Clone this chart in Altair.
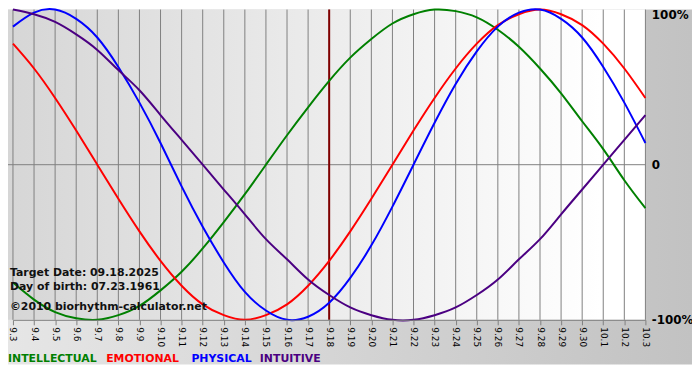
import altair as alt
import pandas as pd

# ---- data ----
days = ["9.3", "9.4", "9.5", "9.6", "9.7", "9.8", "9.9", "9.10", "9.11", "9.12",
        "9.13", "9.14", "9.15", "9.16", "9.17", "9.18", "9.19", "9.20", "9.21",
        "9.22", "9.23", "9.24", "9.25", "9.26", "9.27", "9.28", "9.29", "9.30",
        "10.1", "10.2", "10.3"]

intellectual = [-0.76, -0.87, -0.95, -0.99, -1.00, -0.97, -0.91, -0.81, -0.69, -0.54,
                -0.37, -0.19, 0.00, 0.19, 0.37, 0.54, 0.69, 0.81, 0.91, 0.97,
                1.00, 0.99, 0.95, 0.87, 0.76, 0.62, 0.46, 0.28, 0.10, -0.10, -0.28]
emotional = [0.78, 0.62, 0.43, 0.22, 0.00, -0.22, -0.43, -0.62, -0.78, -0.90,
             -0.97, -1.00, -0.97, -0.90, -0.78, -0.62, -0.43, -0.22, 0.00, 0.22,
             0.43, 0.62, 0.78, 0.90, 0.97, 1.00, 0.97, 0.90, 0.78, 0.62, 0.43]
physical = [0.89, 0.98, 1.00, 0.94, 0.82, 0.63, 0.40, 0.14, -0.14, -0.40,
            -0.63, -0.82, -0.94, -1.00, -0.98, -0.89, -0.73, -0.52, -0.27, 0.00,
            0.27, 0.52, 0.73, 0.89, 0.98, 1.00, 0.94, 0.82, 0.63, 0.40, 0.14]
intuitive = [1.00, 0.97, 0.92, 0.84, 0.74, 0.61, 0.48, 0.32, 0.16, 0.00,
             -0.16, -0.32, -0.48, -0.61, -0.74, -0.84, -0.92, -0.97, -1.00, -1.00,
             -0.97, -0.92, -0.84, -0.74, -0.61, -0.48, -0.32, -0.16, 0.00, 0.16, 0.32]

series_names = ["INTELLECTUAL", "EMOTIONAL", "PHYSICAL", "INTUITIVE"]
series_colors = ["#008000", "#ff0000", "#0000ff", "#4b0082"]
target_day = "9.18"
y_ticks = [-1, 0, 1]
y_labels = ["-100%", "0", "100%"]
notes = ["Target Date: 09.18.2025", "Day of birth: 07.23.1961",
         "\u00a92010 biorhythm-calculator.net"]

# ---- layout ----
W, H = 638, 313
PAD_L, PAD_R, PAD_B = 5, 47, 45
FONT = "DejaVu Sans"

series_values = [intellectual, emotional, physical, intuitive]
df = pd.DataFrame(
    [{"day": d, "value": v, "series": s}
     for s, vals in zip(series_names, series_values)
     for d, v in zip(days, vals)]
)
days_df = pd.DataFrame({"day": days})
one = alt.Data(values=[{"k": 1}])

x_scale = alt.Scale(type="point", domain=days, padding=0)
x_axis = alt.Axis(title=None, labelAngle=90, labelAlign="left", labelBaseline="middle",
                  labelFont=FONT, labelFontSize=9, labelColor="#000000",
                  labelPadding=2, tickColor="#808080", tickSize=5,
                  domainColor="#808080", grid=False, labelOverlap=False, zindex=1)
x_enc = alt.X("day:O", scale=x_scale, axis=x_axis)

label_expr = " : ".join(
    f"datum.value == {t} ? '{l}'" for t, l in zip(y_ticks[:-1], y_labels[:-1])
) + f" : '{y_labels[-1]}'"
y_axis = alt.Axis(title=None, orient="right", values=y_ticks, labelExpr=label_expr,
                  ticks=False, domain=False, grid=False, labelFont=FONT,
                  labelFontSize=12, labelFontWeight="bold", labelColor="#000000",
                  labelPadding=6, labelFlush=False, zindex=1,
                  labelBaseline={"condition": {"test": "datum.value == 1", "value": "top"},
                                 "value": "middle"})
y_scale = alt.Scale(domain=[-1, 1], nice=False, zero=False)


def grad(stops):
    return {"gradient": "linear", "x1": 0, "y1": 0, "x2": 1, "y2": 0,
            "stops": [{"offset": o, "color": c} for o, c in stops]}


bg_all = alt.Chart(one).mark_rect(
    fill=grad([(0, "#e6e6e6"), (1, "#c2c2c2")]), stroke=None
).encode(x=alt.value(-PAD_L), x2=alt.value(W + PAD_R), y=alt.value(0), y2=alt.value(H + PAD_B))

bg_plot = alt.Chart(one).mark_rect(
    fill=grad([(0, "#d6d6d6"), (0.93, "#ffffff"), (1, "#ffffff")]), stroke=None
).encode(x=alt.value(-PAD_L), x2=alt.value(W), y=alt.value(0), y2=alt.value(H))

grid = alt.Chart(days_df).mark_rule(color="#808080", strokeWidth=1).encode(x=x_enc)

zero = alt.Chart(one).mark_rule(color="#808080", strokeWidth=1).encode(
    y=alt.Y(datum=0, type="quantitative", scale=y_scale, axis=y_axis),
    x=alt.value(-PAD_L), x2=alt.value(W))

target = alt.Chart(pd.DataFrame({"day": [target_day]})).mark_rule(
    color="#800000", strokeWidth=2).encode(x=x_enc)

lines = alt.Chart(df).mark_line(strokeWidth=2, interpolate="natural").encode(
    x=x_enc,
    y=alt.Y("value:Q", scale=y_scale, axis=y_axis),
    color=alt.Color("series:N", scale=alt.Scale(domain=series_names, range=series_colors),
                    legend=None),
    detail="series:N",
)

note_y = [269, 283, 303]
note_layers = [
    alt.Chart(one).mark_text(text=t, align="left", baseline="alphabetic", font=FONT,
                             fontSize=11, fontWeight="bold", color="#111111")
    .encode(x=alt.value(-3), y=alt.value(yy))
    for t, yy in zip(notes, note_y)
]

legend_x = [-5, 94, 180, 249]
legend_layers = [
    alt.Chart(one).mark_text(text=n, align="left", baseline="alphabetic", font=FONT,
                             fontSize=11, fontWeight="bold", color=c)
    .encode(x=alt.value(xx), y=alt.value(H + 43))
    for n, c, xx in zip(series_names, series_colors, legend_x)
]

chart = alt.layer(
    bg_all, bg_plot, grid, zero, target, lines, *note_layers, *legend_layers
).properties(
    width=W, height=H,
    autosize=alt.AutoSizeParams(type="none"),
    padding={"left": PAD_L, "top": 0, "right": PAD_R, "bottom": PAD_B},
    background="#ffffff",
).configure_view(stroke=None)

chart.save("out.html", embed_options={"renderer": "svg", "actions": False})
